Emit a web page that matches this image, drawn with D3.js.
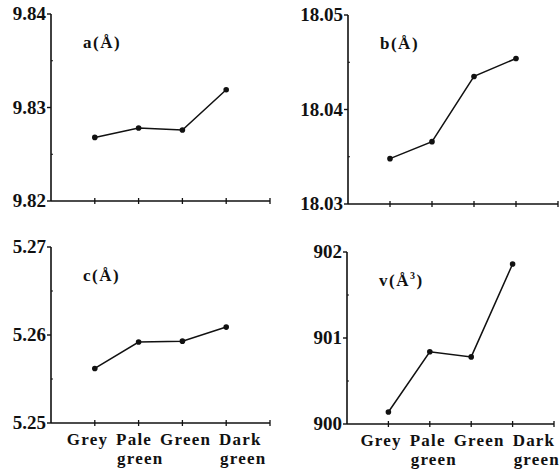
<!DOCTYPE html>
<html>
<head>
<meta charset="utf-8">
<script src="https://cdn.jsdelivr.net/npm/d3@7"></script>
<style>
  body { margin: 0; background: #fff; }
  svg { display: block; }
  text { font-family: 'Liberation Serif', 'Times New Roman', Times, serif; font-weight: bold; fill: #111; }
</style>
</head>
<body>
<div class="chart"></div>
<script>
const categories = ['Grey', 'Pale green', 'Green', 'Dark green']
const aValues = [9.8268, 9.8278, 9.8276, 9.8319]
const bValues = [18.0348, 18.0366, 18.0435, 18.0454]
const cValues = [5.2562, 5.2592, 5.2593, 5.2609]
const vValues = [900.14, 900.84, 900.78, 901.86]
const aTicks = ['9.82', '9.83', '9.84']
const bTicks = ['18.03', '18.04', '18.05']
const cTicks = ['5.25', '5.26', '5.27']
const vTicks = ['900', '901', '902']

const width = 560, height = 475
const svg = d3.select('.chart').append('svg').attr('width', width).attr('height', height)

function drawPanel(opts) {
  const { values, ticks, left, right, top, bottom, label, sup, showCats } = opts
  const tickVals = ticks.map(Number)
  const x = d3.scaleLinear().domain([-1, 4]).range([left, right])
  const y = d3.scaleLinear().domain([tickVals[0], tickVals[2]]).range([bottom, top])
  const g = svg.append('g')

  // y axis
  g.append('line').attr('x1', left).attr('x2', left).attr('y1', top).attr('y2', bottom)
    .attr('stroke', '#111').attr('stroke-width', 1.6)
  const minor = [(tickVals[0] + tickVals[1]) / 2, (tickVals[1] + tickVals[2]) / 2]
  g.selectAll('.ytick').data(tickVals).join('line')
    .attr('x1', left - 4).attr('x2', left).attr('y1', d => y(d)).attr('y2', d => y(d))
    .attr('stroke', '#111').attr('stroke-width', 1.4)
  g.selectAll('.yminor').data(minor).join('line')
    .attr('x1', left).attr('x2', left + 2).attr('y1', d => y(d)).attr('y2', d => y(d))
    .attr('stroke', '#111').attr('stroke-width', 1)
  g.selectAll('.ylabel').data(ticks).join('text')
    .attr('x', left - 5).attr('y', d => y(+d) + 6)
    .attr('text-anchor', 'end').attr('font-size', 19)
    .text(d => d)

  // x axis
  g.append('line').attr('x1', left).attr('x2', right).attr('y1', bottom).attr('y2', bottom)
    .attr('stroke', '#111').attr('stroke-width', 1.6)
  g.selectAll('.xtick').data([0, 1, 2, 3, 4]).join('line')
    .attr('x1', d => x(d)).attr('x2', d => x(d)).attr('y1', bottom - 3).attr('y2', bottom + 3)
    .attr('stroke', '#111').attr('stroke-width', 1.3)

  if (showCats) {
    // category names set as one flowing line of words, second words below
    let cx = x(0) - 28
    categories.forEach(c => {
      const words = c.split(' ')
      const t = g.append('text').attr('x', cx).attr('y', bottom + 22)
        .attr('font-size', 17).attr('letter-spacing', 1.2).text(words[0])
      if (words[1]) {
        g.append('text').attr('x', cx + 1).attr('y', bottom + 41)
          .attr('font-size', 17).attr('letter-spacing', 1.2).text(words[1])
      }
      cx += t.node().getComputedTextLength() + 8
    })
  }

  // line + points
  const line = d3.line().x((d, i) => x(i)).y(d => y(d))
  g.append('path').datum(values).attr('d', line)
    .attr('fill', 'none').attr('stroke', '#111').attr('stroke-width', 1.5)
  g.selectAll('.pt').data(values).join('circle')
    .attr('cx', (d, i) => x(i)).attr('cy', d => y(d)).attr('r', 2.8).attr('fill', '#111')

  const lt = g.append('text').attr('x', left + 32).attr('y', top + 34)
    .attr('font-size', 17).attr('letter-spacing', 1.5)
  lt.append('tspan').text(label + '(Å')
  if (sup) lt.append('tspan').attr('font-size', 10).attr('dy', -7).text(sup)
  lt.append('tspan').attr('dy', sup ? 7 : 0).text(')')
}

drawPanel({ values: aValues, ticks: aTicks, left: 51, right: 270, top: 14, bottom: 201, label: 'a' })
drawPanel({ values: bValues, ticks: bTicks, left: 348, right: 558, top: 15, bottom: 204, label: 'b', })
drawPanel({ values: cValues, ticks: cTicks, left: 51, right: 270, top: 247, bottom: 423, label: 'c', showCats: true })
drawPanel({ values: vValues, ticks: vTicks, left: 347, right: 554, top: 252, bottom: 424, label: 'v', sup: '3', showCats: true })
</script>
</body>
</html>
